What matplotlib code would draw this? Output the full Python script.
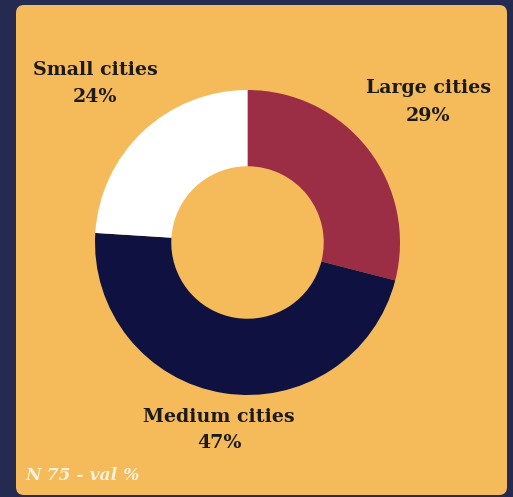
import matplotlib.pyplot as plt
from matplotlib.patches import FancyBboxPatch

# city size shares (%), N = 75
labels = ["Large cities", "Medium cities", "Small cities"]
shares = [29, 47, 24]
colors = ["#9b2d44", "#0f1240", "#ffffff"]
note = "N 75 - val %"

W, H = 513, 497
bg = "#252a50"
panel = "#f5bb5a"

fig = plt.figure(figsize=(W / 100, H / 100), dpi=100, facecolor=bg)
ax = fig.add_axes([0, 0, 1, 1])

# rounded card behind the chart
ax.add_patch(FancyBboxPatch((16, 2), 491, 490, boxstyle="round,pad=0,rounding_size=8",
                            fc=panel, ec="none", zorder=0))

cx, cy, r = 247.5, H - 242.5, 152.5
ax.pie(shares, colors=colors, startangle=90, counterclock=False,
       center=(cx, cy), radius=r, frame=True,
       wedgeprops=dict(width=r * 0.5, linewidth=0))
ax.set_xlim(0, W)
ax.set_ylim(0, H)
ax.set_aspect("equal")
ax.axis("off")

# label anchors in pixel coords: (x, name y, value y), y from top
label_pos = [(428, 88, 116), (219, 417, 443), (95, 70, 97)]
font = dict(family="DejaVu Serif", weight="bold", size=13.7, color="#1c1a1a",
            ha="center", va="center")
for name, val, (x, y1, y2) in zip(labels, shares, label_pos):
    ax.text(x, H - y1, name, **font)
    ax.text(x, H - y2, f"{val}%", **font)

ax.text(25, H - 476, note, ha="left", va="center", family="DejaVu Serif",
        weight="bold", style="italic", size=12.3, color="#fbf1dc")

fig.savefig("out.png", dpi=100, facecolor=bg)
